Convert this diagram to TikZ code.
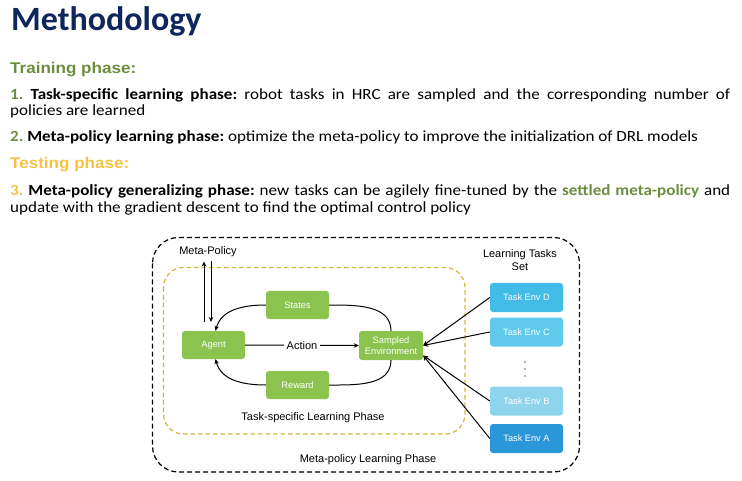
\documentclass[tikz,border=0pt]{standalone}
\usepackage{fontspec}
\setmainfont{Carlito}
\newfontfamily\bodyfont[FakeStretch=1.1]{Carlito}
\newfontfamily\headfont[FakeStretch=1.1]{Liberation Sans}
\newfontfamily\diagfont{Liberation Sans}
\usetikzlibrary{arrows.meta}

\definecolor{titlenavy}{RGB}{14,38,92}
\definecolor{traingreen}{RGB}{106,142,62}
\definecolor{testgold}{RGB}{246,194,67}
\definecolor{boxgreen}{RGB}{139,195,78}
\definecolor{phasegold}{RGB}{214,182,56}
\definecolor{envD}{RGB}{66,188,230}
\definecolor{envC}{RGB}{96,202,236}
\definecolor{envB}{RGB}{142,212,236}
\definecolor{envA}{RGB}{42,152,216}

\tikzset{
  bodytext/.style={anchor=base west, inner sep=0pt, font=\bodyfont\frenchspacing\fontsize{15.5}{17}\selectfont},
  headtext/.style={anchor=base west, inner sep=0pt, font=\headfont\bfseries\fontsize{15.5}{18}\selectfont},
  difflabel/.style={inner sep=1pt, font=\diagfont\fontsize{11}{13}\selectfont},
  greenbox/.style={fill=boxgreen, rounded corners=3pt, text=white, align=center,
    font=\diagfont\fontsize{9.3}{11.5}\selectfont, inner sep=0pt},
  envbox/.style={rounded corners=3pt, text=white, minimum width=73pt, minimum height=29pt,
    font=\diagfont\fontsize{9.2}{11}\selectfont, inner sep=0pt},
  conn/.style={line width=1pt, black},
  tip/.style={-{Stealth[length=5pt,width=4.5pt]}},
}

\begin{document}
\begin{tikzpicture}[x=1pt,y=-1pt]
\useasboundingbox (0,0) rectangle (742,481);
\fill[white] (0,0) rectangle (742,481);

% heading and text block
\node[anchor=base west, inner sep=0pt, text=titlenavy,
      font=\bfseries\fontsize{34}{40}\selectfont] (title) at (11,31) {Methodology};

\node[headtext, text=traingreen] (train) at (10,74) {Training phase:};
\node[bodytext] (l1a) at (10,99.5) {\makebox[720pt][s]{\textcolor{traingreen}{\bfseries 1.} \textbf{Task-specific learning phase:} robot tasks in HRC are sampled and the corresponding number of}};
\node[bodytext] (l1b) at (10,116) {policies are learned};
\node[bodytext] (l2) at (10,142) {\textcolor{traingreen}{\bfseries 2.} \textbf{Meta-policy learning phase:} optimize the meta-policy to improve the initialization of DRL models};
\node[headtext, text=testgold] (test) at (10,169) {Testing phase:};
\node[bodytext] (l3a) at (10,196) {\makebox[720pt][s]{\textcolor{testgold}{\bfseries 3.} \textbf{Meta-policy generalizing phase:} new tasks can be agilely fine-tuned by the \textcolor{traingreen}{\bfseries settled meta-policy} and}};
\node[bodytext] (l3b) at (10,212.5) {update with the gradient descent to find the optimal control policy};

% phase frames
\draw[line width=1.2pt, dash pattern=on 5pt off 3pt, rounded corners=26pt]
  (152.5,237.5) rectangle (579.5,472);
\draw[line width=1.2pt, phasegold, dash pattern=on 4.5pt off 3pt, rounded corners=20pt]
  (163.5,267.5) rectangle (465,434);

% agent loop
\node[greenbox, minimum width=63pt, minimum height=28pt] (agent) at (213.5,345) {Agent};
\node[greenbox, minimum width=63pt, minimum height=28pt] (states) at (297.5,305) {States};
\node[greenbox, minimum width=63pt, minimum height=28pt] (reward) at (297.5,385) {Reward};
\node[greenbox, minimum width=64pt, minimum height=29pt] (env) at (391,345.5) {Sampled\\Environment};

\draw[conn, tip] (states.west) to[out=180, in=75] ([xshift=2pt]agent.north);
\draw[conn] (states.east) to[out=0, in=90] (env.north);
\draw[conn] (env.south) to[out=-90, in=0] (reward.east);
\draw[conn, tip] (reward.west) to[out=180, in=-75] ([xshift=2pt]agent.south);
\draw[conn, tip] (agent.east) -- node[fill=white, difflabel, inner xsep=3pt] (action) {Action} (env.west);

% meta-policy exchange
\node[difflabel] (meta) at (208,252) {Meta-Policy};
\coordinate (upbot) at (204,322);
\coordinate (uptop) at (204,261.5);
\coordinate (dntop) at (211,261.5);
\coordinate (dnbot) at (211,322);
\draw[conn, tip] (upbot) -- (uptop);
\draw[conn, tip] (dntop) -- (dnbot);

% learning task set
\node[difflabel, align=center] (setlabel) at (520,260) {Learning Tasks\\Set};
\node[envbox, fill=envD] (tD) at (526.5,297.5) {Task Env D};
\node[envbox, fill=envC] (tC) at (526.5,332) {Task Env C};
\node[envbox, fill=envB] (tB) at (526.5,401) {Task Env B};
\node[envbox, fill=envA] (tA) at (526.5,438.5) {Task Env A};
\foreach \yy in {362,369,376} \fill[black!60] (525,\yy) circle (0.8pt);

\draw[conn, tip] (tD.west) -- (env.east);
\draw[conn, tip] (tC.west) -- (env.east);
\draw[conn, tip] (tB.west) -- ([yshift=-10pt]env.east);
\draw[conn, tip] (tA.west) -- ([yshift=-10pt]env.east);

% phase captions
\node[difflabel] (tslabel) at (313,418) {Task-specific Learning Phase};
\node[difflabel] (mplabel) at (368,460) {Meta-policy Learning Phase};
\end{tikzpicture}
\end{document}
